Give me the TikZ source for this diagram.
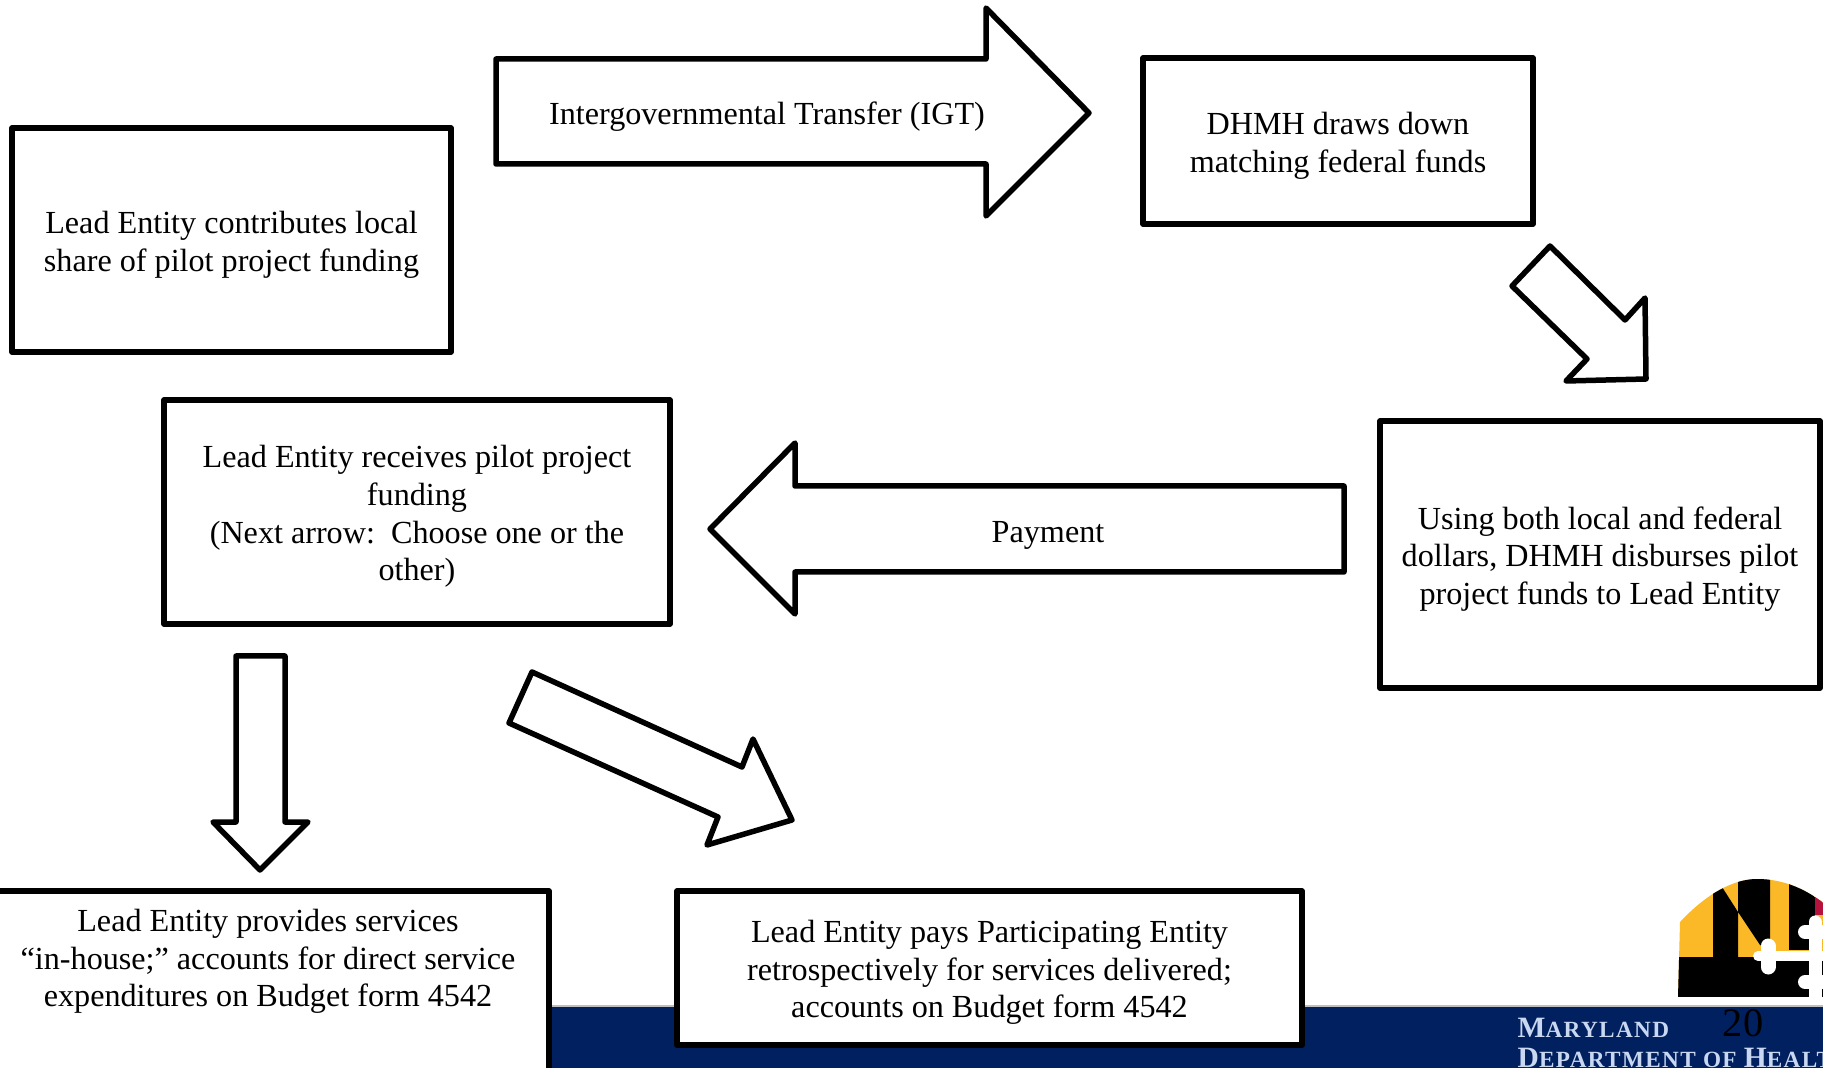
\documentclass[tikz,border=0pt]{standalone}
\usepackage{fontspec}
\setmainfont{Liberation Serif}
\definecolor{bandnavy}{HTML}{012060}
\definecolor{flaggold}{HTML}{FBB927}
\definecolor{flagred}{HTML}{B5123E}
\definecolor{bandtext}{HTML}{C9D8F0}
\tikzset{
	flowbox/.style={draw, fill=white, line width=0.55mm, line join=round},
	blockarrow/.style={draw, fill=white, line width=0.55mm, line join=round},
	flowtext/.style={align=center, inner sep=0pt, font=\fontsize{9.15}{10.75}\selectfont},
	boxtext/.style={flowtext, yshift=-0.45mm},
	bandlabel/.style={anchor=base west, inner sep=0pt, color=bandtext},
	crossbar/.style={draw=white, line cap=round}
}

\begin{document}
\begin{tikzpicture}[x=0.1mm, y=-0.1mm]
	%%%%% START %%%%%

	\useasboundingbox (0, 0) rectangle (1823, 1068);
	\clip (0, 0) rectangle (1823, 1068);

	% footer band
	\fill[color=black!25] (0, 1005) rectangle (1823, 1008);
	\fill[color=bandnavy] (0, 1007) rectangle (1823, 1068);
	\node[bandlabel] (bandtop) at (1517, 1037) {\bfseries\fontsize{8.4}{8}\selectfont M\fontsize{6.6}{8}\selectfont\addfontfeatures{LetterSpace=6}ARYLAND};
	\node[bandlabel] (bandlow) at (1517, 1067) {\bfseries\fontsize{8.4}{8}\selectfont D\fontsize{6.6}{8}\selectfont\addfontfeatures{LetterSpace=6}EPARTMENT OF \fontsize{8.4}{8}\selectfont H\fontsize{6.6}{8}\selectfont EALTH};

	% flag logo
	\begin{scope}
		\clip (1678, 997) -- (1680, 922) .. controls (1708, 892) and (1735, 879) .. (1757, 879) .. controls (1785, 879) and (1808, 890) .. (1830, 908) -- (1830, 997) -- cycle;
		\fill[color=flaggold] (1670, 870) rectangle (1830, 997);
		\fill[color=black] (1678, 957) rectangle (1830, 997);
		\fill[color=black] (1713, 957) -- (1713, 890) -- (1722, 887) -- (1738, 912) -- (1738, 870) -- (1770, 870) -- (1770, 950) -- (1760, 945) -- (1738, 912) -- (1738, 957) -- cycle;
		\fill[color=black] (1789, 870) rectangle (1815, 950);
		\fill[color=flagred] (1815, 870) rectangle (1830, 915);
		\draw[crossbar, line width=1mm] (1758, 956) -- (1830, 956);
		\draw[crossbar, line width=1.5mm] (1768, 946) -- (1768, 967);
		\draw[crossbar, line width=1.3mm] (1815, 922) -- (1815, 1000);
		\draw[crossbar, line width=1.4mm] (1805, 932) -- (1830, 932);
		\draw[crossbar, line width=1.4mm] (1805, 982) -- (1830, 982);
	\end{scope}
	\node[inner sep=0pt, color=black] (pagenum) at (1743, 1023) {\fontsize{11.5}{11.5}\selectfont 20};

	% boxes
	\node[flowbox, minimum width=4.39cm, minimum height=2.24cm] (contributes) at (231.5, 240) {};
	\node[boxtext] (contributestext) at (contributes) {Lead Entity contributes local\\share of pilot project funding};
	\node[flowbox, minimum width=3.90cm, minimum height=1.66cm] (draws) at (1338, 141) {};
	\node[boxtext] (drawstext) at (draws) {DHMH draws down\\matching federal funds};
	\node[flowbox, minimum width=4.40cm, minimum height=2.67cm] (disburses) at (1600, 554.5) {};
	\node[boxtext] (disbursestext) at (disburses) {Using both local and federal\\dollars, DHMH disburses pilot\\project funds to Lead Entity};
	\node[flowbox, minimum width=5.06cm, minimum height=2.24cm] (receives) at (417, 512) {};
	\node[boxtext] (receivestext) at (receives) {Lead Entity receives pilot project\\funding\\(Next arrow:\ \ Choose one or the\\other)};
	\node[flowbox, minimum width=5.80cm, minimum height=2.10cm] (inhouse) at (259, 996) {};
	\node[flowtext] (inhousetext) at (268, 961.5) {Lead Entity provides services\\“in-house;” accounts for direct service\\expenditures on Budget form 4542};
	\node[flowbox, minimum width=6.25cm, minimum height=1.54cm] (retro) at (989.5, 968) {};
	\node[boxtext] (retrotext) at (retro) {Lead Entity pays Participating Entity\\retrospectively for services delivered;\\accounts on Budget form 4542};

	% block arrows
	\draw[blockarrow] (496, 59) -- (986, 59) -- (986, 8) -- (1089, 113) -- (986, 216) -- (986, 164) -- (496, 164) -- cycle;
	\node[flowtext] (igt) at (767, 117) {Intergovernmental Transfer (IGT)};

	\draw[blockarrow] (1550, 246) -- (1625, 320) -- (1645, 298) -- (1646, 379) -- (1566, 381) -- (1587, 359) -- (1512, 286) -- cycle;

	\draw[blockarrow] (1344, 486) -- (795, 486) -- (795, 443) -- (710, 529) -- (795, 614) -- (795, 572) -- (1344, 572) -- cycle;
	\node[flowtext] (payment) at (1048, 535) {Payment};

	\draw[blockarrow] (236, 656) -- (285, 656) -- (285, 822) -- (308, 822) -- (260, 870) -- (213, 822) -- (236, 822) -- cycle;

	\draw[blockarrow] (532, 672) -- (742, 767) -- (753, 739) -- (792, 820) -- (707, 845) -- (718, 817) -- (509, 723) -- cycle;

	%%%%% END %%%%%
\end{tikzpicture}
\end{document}
